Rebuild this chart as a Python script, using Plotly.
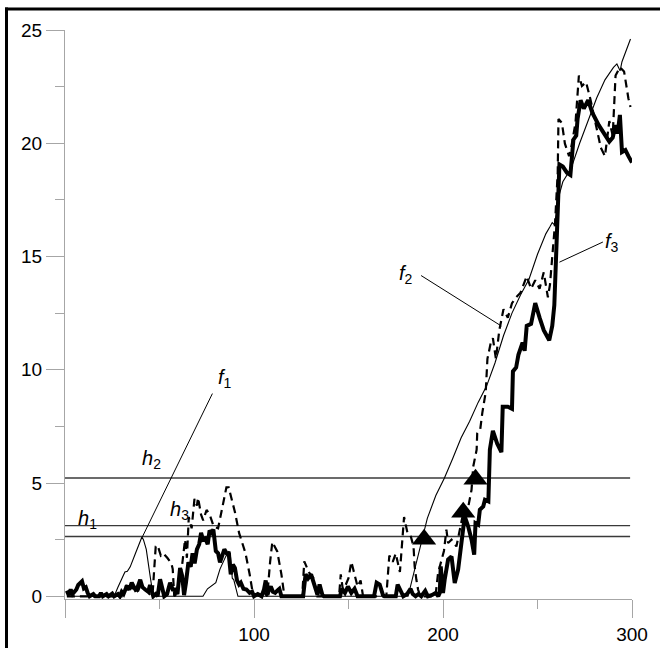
import plotly.graph_objects as go

# ---------------- data ----------------
f1_x = [1, 26, 28, 30, 31.7, 33, 34.5, 37.3, 39, 40.7, 41.5, 43, 45.2, 46.7, 73, 75.4, 79.8, 82, 85, 86.6,
        87.5, 88, 88.5, 89.3, 90.5, 91.5, 181.5, 185, 189.5, 191.7, 196.2, 200.7, 205.2, 209.6, 214.1,
        218.6, 223.1, 227.5, 232, 236.5, 241, 245.5, 250, 254.4, 256.5, 257.8, 259, 261.1, 263.4, 267.8,
        272.3, 276.8, 281.3, 285.7, 290.2, 292, 293.7, 294.7, 299.2]
f1_y = [0, 0, 0.4, 0.8, 1.07, 1.1, 1.3, 1.9, 2.3, 2.62, 2.5, 2.07, 0.8, 0, 0, 0.33, 0.6, 1.2, 1.75, 1.97,
        1.9, 1.2, 0.8, 0.73, 0.3, 0, 0, 1.16, 2.62, 3.44, 4.45, 5.21, 6.09, 7.0, 7.73,
        8.56, 9.29, 10.3, 11.5, 12.5, 13.3, 14.0, 15.1, 16.0, 16.3, 16.5, 16.4, 17.6, 18.3, 18.9,
        20.0, 21.0, 22.0, 22.8, 23.35, 23.5, 23.2, 23.6, 24.6]

f2_x = [1, 30, 31, 32.5, 34, 36, 38, 40, 42, 44, 45.5, 46.5, 48, 49, 50.7, 52, 54.1, 56.3, 57, 57.8, 59,
        60.5, 62, 63.5, 64.5, 65.5, 67, 68.5, 69.8, 70.4, 72, 73.1, 74.9, 76.5, 78.7, 81, 83.2, 85.4, 86.6,
        89.9, 92.1, 95.5, 97.7, 99.5, 101, 103, 105, 107, 108.5, 109.7, 112.3, 114.5, 116.1, 125.5, 126.6,
        129.1, 131.5, 133.5, 145, 145.9, 147, 148.5, 150, 151.5, 152.6, 154.8, 156.4, 157.7, 170, 171.6,
        173.4, 175, 177.2, 179.4, 181.2, 182.8, 184.4, 185, 185.9, 186.8, 188, 196, 197.4, 199, 200.5,
        201.8, 202.7, 204.5, 207.1, 208.9, 210.7, 212.4, 215.1, 216, 217.8, 218.1, 219.7, 220.8, 222.6,
        223.5, 225.3, 226.4, 228, 229.8, 232, 234.3, 236.5, 238.7, 241, 244.3, 246.6, 248.8, 251.1, 253.3,
        255.5, 256.6, 258.4, 259.3, 260.7, 261.1, 262.9, 264.5, 266.7, 267.8, 270.1, 271.9, 273.5, 275.7,
        277.9, 280.1, 281.7, 283.5, 285.7, 288, 289.8, 291.3, 293.6, 295.8, 298.1, 299.2]
f2_y = [0, 0, 0.3, 0.5, 0.2, 0.4, 0.1, 0.5, 0.3, 0.2, 0, 0.3, 2.2, 2.25, 1.8, 1.9, 1.7, 1.45, 1.2, 0, 0.1,
        0.7, 1.4, 2.5, 1.7, 3.5, 3.0, 4.3, 4.0, 4.35, 3.6, 3.35, 3.81, 3.62, 3.07, 3.0, 3.9, 4.81, 4.81,
        3.72, 2.8, 1.9, 0.97, 0.06, 0.1, 0, 0.2, 0, 1.5, 2.4, 1.98, 0.97, 0, 0, 1.54,
        1.05, 0.8, 0, 0, 0.97, 0.3, 0.5, 0.8, 1.52, 1.16, 0.43, 0.7, 0, 0, 1.8,
        1.52, 1.89, 1.07, 3.5, 2.8, 2.7, 2.2, 1.32, 0.74, 0.3, 0, 0, 1.03, 1.6, 2.0,
        2.94, 2.35, 2.5, 2.2, 2.94, 3.67, 3.53, 4.7, 5.73, 6.47, 7.19, 7.37, 8.1, 9.01,
        10.48, 11.2, 11.39, 10.48, 11.75, 12.67, 12.3, 12.94, 13.2, 13.4, 14.13, 13.58, 13.95, 13.58, 14.3,
        13.2, 13.76, 15.4, 16.5, 18.7, 21.07, 20.9, 19.98, 19.43, 19.8, 20.9, 22.99, 22.53, 22.7,
        21.98, 21.07, 20.52, 19.8, 19.43, 20.98, 20.34, 22.99, 23.35, 23.17, 21.98, 21.6]

f3_x = [1, 2, 3, 4, 5, 6, 7, 8, 9, 10, 11, 12, 13, 15, 16, 18, 19, 20, 22, 23, 25, 26, 28, 29, 30, 31,
        32.7, 34, 35.3, 36.5, 38, 39.8, 41, 42.4, 44, 45, 46.7, 48, 49, 50.3, 51.5, 52.5, 54, 55.6, 57,
        58.3, 59.5, 60.9, 62, 63, 64, 65.3, 66.5, 67.5, 68.6, 69.8, 71, 72, 73, 74.2, 75.5, 76.5, 77.6,
        78.5, 79.8, 81, 82, 83, 84.3, 85.5, 86.6, 87.7, 88.8, 89.9, 91, 92.1, 93, 94.4, 96, 97.7, 99, 100,
        102, 104, 105.3, 106.2, 107.1, 108, 108.9, 110, 111.2, 112.3, 113.4, 114.5, 126, 127.3, 128.6,
        130.2, 131.8, 133, 133.6, 134.7, 136.2, 137, 145.5, 146.5, 148.1, 149.7, 151.5, 153.2, 154.8,
        163.5, 164.9, 166.5, 168.2, 169, 175, 176, 177.8, 179, 181, 182.8, 184, 185.5, 187, 188.5, 190.6,
        192, 194, 196.2, 197.5, 198.3, 198.8, 200, 200.9, 202.7, 204.5, 206.2, 208, 209.8, 211.5, 213.3,
        215.1, 216.5, 217.2, 218.6, 219.5, 221.3, 222.2, 224, 224.8, 226.4, 228.7, 230.9, 231.6, 234.3,
        236.5, 237, 238.7, 239.9, 242.1, 243.2, 244.3, 246.6, 248.8, 251.1, 253.3, 256.2, 257.8, 258.9,
        260.7, 261.6, 263.4, 265.6, 267.4, 269, 270.5, 271.2, 272.8, 274.5, 276.8, 279, 282.4, 285.7, 288,
        289.8, 291.3, 292.4, 293.6, 294.7, 296.5, 298.1, 300]
f3_y = [0.25, 0.05, 0.3, 0.1, 0.2, 0.3, 0.5, 0.6, 0.66, 0.35, 0.4, 0.15, 0, 0.1, 0, 0, 0.15, 0, 0.1, 0,
        0.12, 0, 0.1, 0, 0.2, 0.1,
        0.45, 0.3, 0.6, 0.4, 0.3, 0.73, 0.4, 0.3, 0.2, 0.5, 0, 0.1, 0, 0.75, 0.3, 0, 0.1, 0.6, 0.3,
        0.3, 0.1, 1.25, 0.9, 0.05, 0.6, 1.5, 1.3, 1.9, 1.45, 2.07, 2.3, 2.8, 2.5, 2.55, 2.3, 2.9, 2.8,
        2.95, 2.0, 1.9, 1.5, 1.8, 2.07, 1.9, 1.9, 0.97, 1.4, 1.25, 0.7, 0.52, 0.6, 0.33, 0.3, 0.15, 0.2, 0,
        0.1, 0, 0.3, 0.7, 0.06, 0.3, 0.43, 0.2, 0.15, 0.25, 0.33, 0, 0, 0.97, 0.79,
        0.97, 0.52, 0.3, 0.06, 0.52, 0.06, 0, 0, 0.33, 0.15, 0.43, 0.15, 0.33, 0,
        0, 0.6, 0.52, 0.06, 0, 0, 0.52, 0.15, 0, 0.1, 0.33, 0.1, 0, 0.1, 0, 0.24,
        0, 0.05, 0.15, 0, 0.15, 1.32, 0.15, 0.74, 1.62, 1.76, 0.59, 1.18, 2.5, 3.53, 3.09,
        2.5, 1.84, 3.23, 3.16, 3.82, 3.97, 4.26, 4.19, 6.47, 7.3, 6.73, 6.36, 8.37, 8.37,
        8.28, 9.93, 10.1, 10.66, 11.2, 10.84, 11.94, 12.03, 12.94, 12.3, 11.75, 11.3, 11.94, 12.85,
        16.87, 19.06, 18.97, 18.7, 18.6, 20.16, 20.34, 21.07, 21.9, 21.53, 21.9, 21.35, 20.8, 20.34, 20.07,
        20.25, 20.8, 20.43, 21.25, 19.61, 19.7, 19.43, 19.15]

h_levels = [2.64, 3.12, 5.22]
h_span = [0, 299]

tri_x = [190, 210.7, 217.2]
tri_y = [2.52, 3.71, 5.17]

x_tickvals = [0, 100, 200, 300]
x_ticktext = ["", "100", "200", "300"]
x_minor = [50, 150, 250]

FONT = "Liberation Sans, Arial, sans-serif"
GRAY = "#a6a6a6"

fig = go.Figure()

for lv in h_levels:
    fig.add_trace(go.Scatter(x=h_span, y=[lv, lv], mode="lines",
                             line=dict(color="#3a3a3a", width=1.4), hoverinfo="skip"))

fig.add_trace(go.Scatter(x=f1_x, y=f1_y, mode="lines", name="f1",
                         line=dict(color="black", width=1.1)))
fig.add_trace(go.Scatter(x=f2_x, y=f2_y, mode="lines", name="f2",
                         line=dict(color="black", width=2.2, dash="8px,5px")))
fig.add_trace(go.Scatter(x=f3_x, y=f3_y, mode="lines", name="f3",
                         line=dict(color="black", width=4)))
fig.add_trace(go.Scatter(x=tri_x, y=tri_y, mode="markers", cliponaxis=False,
                         marker=dict(symbol="triangle-up", size=21, color="black")))

# leader lines
leaders = [
    (78.0, 8.95, 40.8, 2.6),
    (188.4, 14.16, 230.9, 11.93),
    (284.6, 15.64, 261.6, 14.75),
]
for x0, y0, x1, y1 in leaders:
    fig.add_shape(type="line", xref="x", yref="y", x0=x0, y0=y0, x1=x1, y1=y1,
                  line=dict(color="black", width=1))

labels = [
    ("<i>f</i><sub>1</sub>", 84.6, 9.6),
    ("<i>f</i><sub>2</sub>", 180.6, 14.2),
    ("<i>f</i><sub>3</sub>", 289.6, 15.6),
    ("<i>h</i><sub>1</sub>", 11.8, 3.4),
    ("<i>h</i><sub>2</sub>", 45.8, 6.05),
    ("<i>h</i><sub>3</sub>", 60.6, 3.8),
]
for txt, lx, ly in labels:
    fig.add_annotation(x=lx, y=ly, xref="x", yref="y", text=txt, showarrow=False,
                       font=dict(family=FONT, size=20, color="black"),
                       xanchor="center", yanchor="middle")

# outer frame: only left and top edges fall inside the picture
W, H = 660, 648
L, R, T, B = 65, 28, 30, 49
pw, ph = W - L - R, H - T - B
def px2paper_x(p):
    return (p - L) / pw
def py2paper_y(p):
    return (H - B - p) / ph
fig.add_shape(type="line", xref="paper", yref="paper",
              x0=px2paper_x(6.5), x1=px2paper_x(6.5), y0=py2paper_y(H), y1=py2paper_y(7.5),
              line=dict(color="black", width=3))
fig.add_shape(type="line", xref="paper", yref="paper",
              x0=px2paper_x(5), x1=px2paper_x(W), y0=py2paper_y(9), y1=py2paper_y(9),
              line=dict(color="black", width=3))

fig.update_layout(
    template="none",
    width=W, height=H, margin=dict(l=L, r=R, t=T, b=B, autoexpand=False),
    paper_bgcolor="white", plot_bgcolor="white", showlegend=False,
    font=dict(family=FONT, size=19, color="black"),
    xaxis=dict(range=[0, 300], tickmode="array", tickvals=x_tickvals, ticktext=x_ticktext,
               ticks="outside", ticklen=18, tickcolor=GRAY, tickwidth=1, fixedrange=True,
               automargin=False,
               showline=True, linecolor=GRAY, linewidth=1, showgrid=False, zeroline=False,
               minor=dict(tickmode="array", tickvals=x_minor, ticks="outside", ticklen=9,
                          tickcolor=GRAY, tickwidth=1, showgrid=False),
               tickfont=dict(family=FONT, size=19, color="black")),
    yaxis=dict(range=[-0.12, 25], tickmode="linear", tick0=0, dtick=5,
               ticks="outside", ticklen=18, tickcolor=GRAY, tickwidth=1, fixedrange=True,
               automargin=False,
               showline=True, linecolor=GRAY, linewidth=1, showgrid=False, zeroline=False,
               minor=dict(dtick=2.5, ticks="outside", ticklen=9, tickcolor=GRAY, tickwidth=1,
                          showgrid=False),
               tickfont=dict(family=FONT, size=19, color="black")),
)

fig.write_html("out.html", config={"displayModeBar": False, "staticPlot": True},
               post_script="document.body.style.margin='0px';document.body.style.overflow='hidden';")
